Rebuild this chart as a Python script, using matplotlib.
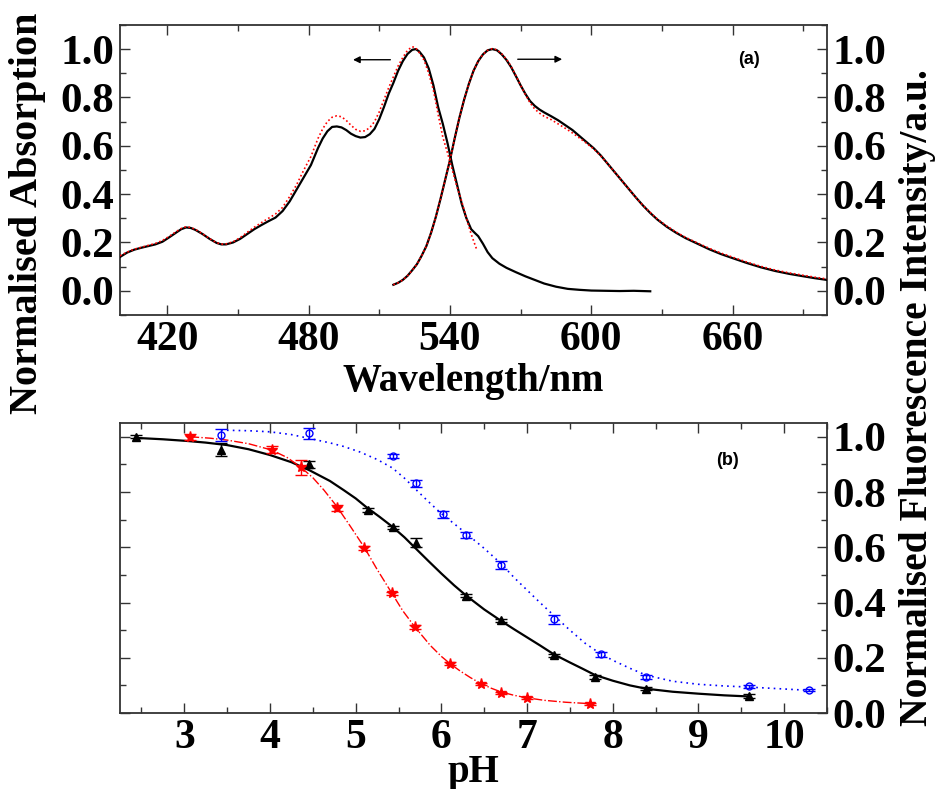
"""
Absorption / fluorescence spectra (a) and pH titration curves (b).
Output: out.png
"""

import matplotlib
matplotlib.use("Agg")
import matplotlib.pyplot as plt
from matplotlib.ticker import MultipleLocator

# ─── Data: panel (a) spectra ──────────────────────────────────────────────────

abs_wl = [400, 403, 406, 409, 412, 415, 418, 421, 424, 426, 428, 430, 432,
          435, 438, 441, 443, 445, 448, 451, 454, 457, 460, 463, 466, 469,
          472, 475, 478, 481, 484, 486, 488, 490, 492, 494, 496, 498, 500,
          502, 504, 506, 508, 510, 512, 514, 516, 518, 520, 522, 524, 525.5,
          527, 529, 531, 533, 535, 537, 539, 541, 543, 545, 547, 549, 550.5,
          552, 554, 556, 558, 561, 564, 568, 572, 576, 580, 585, 590, 595,
          600, 606, 612, 618, 625]
abs_black = [0.14, 0.158, 0.17, 0.178, 0.185, 0.192, 0.203, 0.222, 0.242,
             0.255, 0.262, 0.26, 0.252, 0.235, 0.215, 0.198, 0.192, 0.192,
             0.2, 0.215, 0.235, 0.255, 0.272, 0.288, 0.303, 0.33, 0.37, 0.42,
             0.47, 0.52, 0.59, 0.63, 0.66, 0.678, 0.68, 0.676, 0.665, 0.65,
             0.64, 0.634, 0.636, 0.648, 0.67, 0.71, 0.76, 0.815, 0.86, 0.91,
             0.95, 0.98, 0.997, 1.0, 0.99, 0.965, 0.92, 0.85, 0.76, 0.69,
             0.61, 0.52, 0.44, 0.36, 0.3, 0.255, 0.24, 0.226, 0.195, 0.16,
             0.135, 0.112, 0.095, 0.077, 0.06, 0.045, 0.03, 0.017, 0.008,
             0.004, 0.001, 0.0, -0.001, 0.0, -0.002]

abs_red_wl = [400, 403, 406, 409, 412, 415, 418, 421, 424, 426, 428, 430,
              432, 435, 438, 441, 443, 445, 448, 451, 454, 457, 460, 463, 466,
              469, 472, 475, 478, 481, 484, 486, 488, 490, 492, 494, 496, 498,
              500, 502, 504, 506, 508, 510, 512, 514, 516, 518, 520, 522, 524,
              525.5, 527, 529, 531, 533, 535, 537, 539, 541, 543, 545, 547,
              549, 551.5]
abs_red = [0.145, 0.16, 0.172, 0.18, 0.188, 0.196, 0.208, 0.226, 0.246,
           0.258, 0.265, 0.262, 0.254, 0.236, 0.216, 0.199, 0.193, 0.194,
           0.203, 0.22, 0.242, 0.263, 0.282, 0.3, 0.318, 0.345, 0.39, 0.44,
           0.5, 0.555, 0.63, 0.67, 0.7, 0.718, 0.724, 0.72, 0.705, 0.685,
           0.668, 0.66, 0.662, 0.675, 0.7, 0.74, 0.79, 0.84, 0.885, 0.93,
           0.965, 0.995, 1.01, 1.005, 0.985, 0.955, 0.9, 0.83, 0.73, 0.635,
           0.57, 0.5, 0.43, 0.37, 0.3, 0.235, 0.167]

fl_wl = [516, 518, 520, 522, 524, 526, 528, 530, 532, 534, 536, 538, 540,
         542, 544, 546, 548, 550, 552, 554, 556, 558, 560, 562, 564, 566,
         568, 570, 572, 574, 576, 578, 580, 583, 586, 589, 592, 595, 598,
         601, 604, 607, 610, 613, 616, 619, 622, 625, 628, 632, 636, 640,
         645, 650, 655, 660, 666, 672, 678, 684, 690, 695, 700]
fl_black = [0.025, 0.033, 0.045, 0.062, 0.085, 0.11, 0.145, 0.185, 0.24,
            0.305, 0.38, 0.46, 0.54, 0.63, 0.715, 0.79, 0.855, 0.91, 0.95,
            0.978, 0.995, 1.0, 0.995, 0.978, 0.955, 0.925, 0.888, 0.85,
            0.815, 0.785, 0.765, 0.75, 0.738, 0.722, 0.705, 0.685, 0.665,
            0.64, 0.615, 0.59, 0.56, 0.525, 0.49, 0.455, 0.42, 0.385, 0.352,
            0.322, 0.295, 0.265, 0.24, 0.218, 0.195, 0.172, 0.152, 0.135,
            0.115, 0.097, 0.082, 0.07, 0.06, 0.052, 0.045]
fl_red = [0.025, 0.033, 0.045, 0.062, 0.085, 0.11, 0.145, 0.185, 0.24,
          0.305, 0.38, 0.46, 0.54, 0.63, 0.715, 0.79, 0.855, 0.91, 0.95,
          0.978, 0.995, 1.002, 0.997, 0.98, 0.958, 0.928, 0.89, 0.85, 0.812,
          0.778, 0.752, 0.735, 0.722, 0.708, 0.69, 0.672, 0.653, 0.632,
          0.61, 0.587, 0.558, 0.525, 0.49, 0.455, 0.42, 0.385, 0.353, 0.324,
          0.297, 0.268, 0.243, 0.221, 0.198, 0.176, 0.156, 0.139, 0.119,
          0.101, 0.086, 0.074, 0.064, 0.056, 0.049]

# ─── Data: panel (b) pH titration ─────────────────────────────────────────────

ph_black = [2.44, 3.43, 4.46, 5.14, 5.43, 5.70, 6.29, 6.70, 7.31, 7.79, 8.39, 9.585]
int_black = [1.0, 0.954, 0.90, 0.734, 0.672, 0.617, 0.425, 0.336, 0.209, 0.130, 0.088, 0.062]
err_black = [0.005, 0.023, 0.012, 0.008, 0.006, 0.015, 0.006, 0.005, 0.006, 0.006, 0.006, 0.006]

ph_red = [3.07, 4.02, 4.36, 4.78, 5.10, 5.42, 5.69, 6.10, 6.46, 6.70, 7.0, 7.73]
int_red = [1.0, 0.954, 0.889, 0.742, 0.597, 0.433, 0.311, 0.179, 0.105, 0.073, 0.053, 0.034]
err_red = [0.01, 0.012, 0.027, 0.01, 0.006, 0.006, 0.006, 0.006, 0.005, 0.004, 0.004, 0.004]

ph_blue = [3.43, 4.46, 5.43, 5.70, 6.02, 6.29, 6.70, 7.31, 7.86, 8.39, 9.585, 10.29]
int_blue = [1.006, 1.012, 0.931, 0.831, 0.72, 0.645, 0.535, 0.340, 0.212, 0.130, 0.097, 0.082]
err_blue = [0.022, 0.02, 0.008, 0.012, 0.013, 0.01, 0.015, 0.016, 0.01, 0.007, 0.005, 0.004]

# fitted curves
fit_black_ph = [2.44, 2.75, 3.03, 3.25, 3.5, 3.75, 4.0, 4.25, 4.46, 4.7, 4.86,
                5.0, 5.13, 5.28, 5.43, 5.57, 5.70, 5.85, 6.0, 6.15, 6.29, 6.5,
                6.70, 6.85, 7.0, 7.15, 7.31, 7.5, 7.65, 7.79, 8.0, 8.2, 8.39,
                8.7, 9.0, 9.3, 9.585]
fit_black = [0.996, 0.991, 0.985, 0.979, 0.970, 0.955, 0.934, 0.908, 0.879,
             0.84, 0.807, 0.777, 0.744, 0.71, 0.674, 0.636, 0.596, 0.55,
             0.505, 0.462, 0.425, 0.375, 0.333, 0.303, 0.274, 0.245, 0.213,
             0.183, 0.16, 0.138, 0.117, 0.1, 0.088, 0.077, 0.070, 0.064,
             0.060]

fit_red_ph = [3.07, 3.3, 3.5, 3.75, 4.02, 4.2, 4.36, 4.5, 4.63, 4.78, 4.94,
              5.10, 5.25, 5.42, 5.55, 5.69, 5.87, 6.0, 6.10, 6.22, 6.34, 6.46,
              6.58, 6.70, 6.85, 7.0, 7.2, 7.45, 7.73]
fit_red = [1.0, 0.995, 0.988, 0.975, 0.952, 0.925, 0.89, 0.852, 0.807, 0.748,
           0.675, 0.6, 0.52, 0.435, 0.37, 0.312, 0.245, 0.205, 0.179, 0.152,
           0.128, 0.107, 0.09, 0.076, 0.064, 0.055, 0.046, 0.039, 0.034]

fit_blue_ph = [3.43, 3.75, 4.0, 4.25, 4.46, 4.7, 4.86, 5.05, 5.25, 5.43, 5.57,
               5.70, 5.85, 6.0, 6.15, 6.29, 6.5, 6.70, 6.85, 7.0, 7.15, 7.31,
               7.5, 7.68, 7.86, 8.0, 8.2, 8.39, 8.7, 9.0, 9.3, 9.585, 10.0,
               10.29]
fit_blue = [1.024, 1.022, 1.018, 1.008, 0.994, 0.978, 0.965, 0.945, 0.918,
            0.887, 0.85, 0.81, 0.765, 0.722, 0.685, 0.65, 0.596, 0.54, 0.49,
            0.445, 0.4, 0.354, 0.3, 0.252, 0.214, 0.191, 0.162, 0.137, 0.115,
            0.104, 0.098, 0.094, 0.087, 0.082]

# ─── Style ────────────────────────────────────────────────────────────────────

SERIF = "Liberation Serif"
SANS = "Liberation Sans"
TICK_Y = 31
TICK_X = 30
LABEL = 28


def style_axes(ax):
    for spine in ax.spines.values():
        spine.set_linewidth(1.3)
        spine.set_edgecolor("#333333")
    ax.tick_params(which="both", direction="in", top=True, right=True,
                   width=1.0, color="#333333", pad=4)
    ax.tick_params(which="major", length=7)
    ax.tick_params(which="minor", length=4)
    for lab in ax.get_yticklabels():
        lab.set_fontfamily(SERIF)
        lab.set_fontweight("bold")
        lab.set_fontsize(TICK_Y)
    for lab in ax.get_xticklabels():
        lab.set_fontfamily(SERIF)
        lab.set_fontweight("bold")
        lab.set_fontsize(TICK_X)


fmt_1dp = plt.FuncFormatter(lambda v, p: f"{v:.1f}")

# ─── Figure ───────────────────────────────────────────────────────────────────

fig = plt.figure(figsize=(9.39, 7.89), dpi=100)

# Panel (a)
ax1 = fig.add_axes([0.1278, 0.6008, 0.7529, 0.3676])
ax1.plot(abs_wl, abs_black, color="black", lw=1.6, zorder=3)
ax1.plot(abs_red_wl, abs_red, color="red", lw=1.2, ls=(0, (1, 1.5)), zorder=4)
ax1.plot(fl_wl, fl_black, color="black", lw=1.6, zorder=3)
ax1.plot(fl_wl, fl_red, color="red", lw=1.2, ls=(0, (1, 1.5)), zorder=4)

ax1.annotate("", xy=(497.7, 0.956), xytext=(515.9, 0.956),
             arrowprops=dict(arrowstyle="-|>", color="black", lw=1.0,
                             mutation_scale=10))
ax1.annotate("", xy=(588.8, 0.958), xytext=(567.6, 0.958),
             arrowprops=dict(arrowstyle="-|>", color="black", lw=1.0,
                             mutation_scale=10))
ax1.text(667, 0.955, "(a)", fontfamily=SANS, fontweight="bold", fontsize=13,
         ha="center", va="center")

ax1.set_xlim(400, 700)
ax1.set_ylim(-0.1, 1.1)
ax1.xaxis.set_minor_locator(MultipleLocator(30))
ax1.set_xticks([420, 480, 540, 600, 660])
ax1.yaxis.set_major_locator(MultipleLocator(0.2))
ax1.yaxis.set_minor_locator(MultipleLocator(0.1))
ax1.yaxis.set_major_formatter(fmt_1dp)
ax1.tick_params(labelright=True)
style_axes(ax1)
ax1.set_xlabel("Wavelength/nm", fontfamily=SERIF, fontweight="bold",
               fontsize=LABEL, labelpad=3)

# Panel (b)
ax2 = fig.add_axes([0.1278, 0.0963, 0.7529, 0.3676])
ax2.plot(fit_black_ph, fit_black, color="black", lw=1.6, zorder=3)
ax2.plot(fit_red_ph, fit_red, color="red", lw=1.0, ls="-.", zorder=3)
ax2.plot(fit_blue_ph, fit_blue, color="blue", lw=1.2, ls=(0, (1, 2.5)), zorder=3)

ax2.errorbar(ph_black, int_black, yerr=err_black, fmt="^", color="black",
             ms=6, capsize=4, elinewidth=1, capthick=1, zorder=4)
ax2.errorbar(ph_red, int_red, yerr=err_red, fmt="*", color="red",
             ms=8, capsize=4, elinewidth=1, capthick=1, zorder=4)
ax2.errorbar(ph_blue, int_blue, yerr=err_blue, fmt="o", color="blue",
             mfc="none", ms=5, mew=1, capsize=4, elinewidth=1, capthick=1,
             zorder=4)

ax2.text(9.34, 0.915, "(b)", fontfamily=SANS, fontweight="bold", fontsize=13,
         ha="center", va="center")

ax2.set_xlim(2.25, 10.5)
ax2.set_ylim(0.0, 1.05)
ax2.xaxis.set_major_locator(MultipleLocator(1))
ax2.xaxis.set_minor_locator(MultipleLocator(0.5))
ax2.yaxis.set_major_locator(MultipleLocator(0.2))
ax2.yaxis.set_minor_locator(MultipleLocator(0.1))
ax2.yaxis.set_major_formatter(fmt_1dp)
ax2.tick_params(labelleft=False, labelright=True)
style_axes(ax2)
ax2.set_xlabel("pH", fontfamily=SERIF, fontweight="bold",
               fontsize=LABEL, labelpad=-2)

# Shared axis titles
fig.text(28 / 939, 1 - 213 / 789, "Normalised Absorption", rotation=90,
         ha="center", va="center", fontfamily=SERIF, fontweight="bold",
         fontsize=29)
fig.text(918 / 939, 1 - 398 / 789, "Normalised Fluorescence Intensity/a.u.",
         rotation=90, ha="center", va="center", fontfamily=SERIF,
         fontweight="bold", fontsize=28.5)

fig.savefig("out.png", dpi=100)
